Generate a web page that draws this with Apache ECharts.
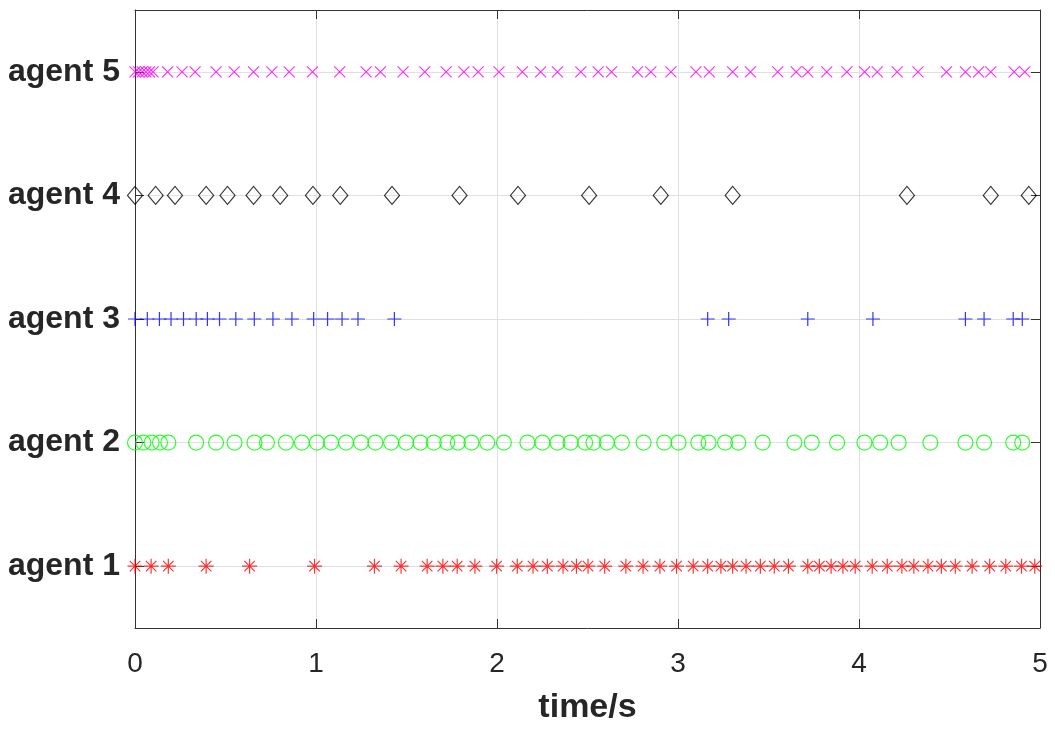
<!DOCTYPE html>
<html>
<head>
<meta charset="utf-8" />
<title>agent events</title>
<script src="https://cdn.jsdelivr.net/npm/echarts@6/dist/echarts.min.js"></script>
<style>
  html, body { margin: 0; padding: 0; background: #fff; }
  #chart { width: 1055px; height: 730px; }
</style>
</head>
<body>
<div id="chart"></div>
<script>
// event times (s) for each agent
var agents = ['agent 1', 'agent 2', 'agent 3', 'agent 4', 'agent 5'];
var xTicks = [0, 1, 2, 3, 4, 5];
var yTicks = [1, 2, 3, 4, 5];

var agent1 = [0, 0.089, 0.184, 0.393, 0.633, 0.992, 1.323, 1.470, 1.614, 1.701, 1.780, 1.878, 1.998,
  2.112, 2.199, 2.278, 2.365, 2.439, 2.503, 2.595, 2.712, 2.807, 2.900, 2.992, 3.084, 3.164, 3.237,
  3.302, 3.376, 3.455, 3.532, 3.610, 3.717, 3.781, 3.846, 3.911, 3.979, 4.073, 4.156, 4.237, 4.303,
  4.381, 4.455, 4.532, 4.625, 4.722, 4.811, 4.898, 4.971];
var agent2 = [0, 0.046, 0.092, 0.138, 0.184, 0.338, 0.448, 0.550, 0.660, 0.729, 0.834, 0.922, 1.005,
  1.083, 1.166, 1.249, 1.328, 1.415, 1.498, 1.577, 1.651, 1.725, 1.784, 1.859, 1.946, 2.038, 2.168,
  2.251, 2.334, 2.407, 2.487, 2.533, 2.607, 2.690, 2.810, 2.924, 3.003, 3.112, 3.169, 3.260, 3.333,
  3.468, 3.643, 3.739, 3.879, 4.030, 4.117, 4.219, 4.394, 4.588, 4.691, 4.852, 4.902];
var agent3 = [0, 0.068, 0.135, 0.199, 0.268, 0.338, 0.400, 0.467, 0.557, 0.659, 0.762, 0.867, 0.987,
  1.064, 1.144, 1.232, 1.433, 3.164, 3.280, 3.717, 4.077, 4.588, 4.691, 4.852, 4.902];
var agent4 = [0, 0.114, 0.221, 0.393, 0.511, 0.655, 0.802, 0.983, 1.134, 1.420, 1.793, 2.116, 2.509,
  2.905, 3.302, 4.265, 4.728, 4.938];
var agent5 = [0, 0.02, 0.04, 0.06, 0.08, 0.1, 0.18, 0.26, 0.332, 0.448, 0.548, 0.655, 0.756, 0.852,
  0.981, 1.131, 1.277, 1.356, 1.481, 1.601, 1.719, 1.817, 1.896, 2.011, 2.140, 2.241, 2.334, 2.463,
  2.559, 2.633, 2.776, 2.850, 2.961, 3.099, 3.173, 3.302, 3.400, 3.551, 3.653, 3.717, 3.822, 3.933,
  4.031, 4.101, 4.211, 4.326, 4.483, 4.588, 4.661, 4.728, 4.857, 4.916];

var eventTimes = [agent1, agent2, agent3, agent4, agent5];
var colors = ['#ff0000', '#00ff00', '#0000ff', '#000000', '#ff00ff'];
var symbols = [
  'path://M5,0L5,10M0,5L10,5M1.5,1.5L8.5,8.5M8.5,1.5L1.5,8.5', // asterisk
  'circle',
  'path://M5,0L5,10M0,5L10,5',                                // plus
  'diamond',
  'path://M0,0L10,10M10,0L0,10'                               // cross
];
var sizes = [15, 15, 14, [15, 18], 11];

var textColor = '#262626';
var boxColor = '#333333';
var gridColor = '#e0e0e0';

var series = [];
for (var i = 0; i < agents.length; i++) {
  var pts = [];
  for (var j = 0; j < eventTimes[i].length; j++) {
    pts.push([eventTimes[i][j], i + 1]);
  }
  series.push({
    name: agents[i],
    type: 'scatter',
    data: pts,
    symbol: symbols[i],
    symbolSize: sizes[i],
    clip: false,
    silent: true,
    animation: false,
    itemStyle: {
      color: 'none',
      borderColor: colors[i],
      borderWidth: 1.2
    }
  });
}

var chart = echarts.init(document.getElementById('chart'));
chart.setOption({
  backgroundColor: '#fff',
  grid: { left: 135, right: 15, top: 10, bottom: 101 },
  xAxis: [{
    type: 'value',
    min: xTicks[0],
    max: xTicks[xTicks.length - 1],
    interval: 1,
    name: 'time/s',
    nameLocation: 'middle',
    nameGap: 63,
    nameTextStyle: { fontFamily: 'Liberation Sans', fontSize: 34, fontWeight: 'bold', color: textColor },
    axisLine: { show: true, onZero: false, lineStyle: { color: boxColor, width: 1 } },
    axisTick: { show: true, inside: true, length: 9, lineStyle: { color: boxColor } },
    axisLabel: { margin: 22, fontFamily: 'Liberation Sans', fontSize: 28, color: textColor },
    splitLine: { show: true, lineStyle: { color: gridColor, width: 1 } }
  }, {
    type: 'value',
    position: 'top',
    min: xTicks[0],
    max: xTicks[xTicks.length - 1],
    interval: 1,
    axisLine: { show: true, onZero: false, lineStyle: { color: boxColor, width: 1 } },
    axisTick: { show: true, inside: true, length: 9, lineStyle: { color: boxColor } },
    axisLabel: { show: false },
    splitLine: { show: false }
  }],
  yAxis: [{
    type: 'value',
    min: 0.5,
    max: agents.length + 0.5,
    splitNumber: 5,
    axisLine: { show: true, onZero: false, lineStyle: { color: boxColor, width: 1 } },
    axisTick: { show: true, inside: true, length: 9, customValues: yTicks, lineStyle: { color: boxColor } },
    axisLabel: {
      margin: 15,
      customValues: yTicks,
      fontFamily: 'Liberation Sans',
      fontSize: 32,
      fontWeight: 'bold',
      color: textColor,
      formatter: function (v) {
        return agents[Math.round(v) - 1] || '';
      }
    },
    splitLine: { show: true, lineStyle: { color: gridColor, width: 1 } }
  }, {
    type: 'value',
    position: 'right',
    min: 0.5,
    max: agents.length + 0.5,
    splitNumber: 5,
    axisLine: { show: true, onZero: false, lineStyle: { color: boxColor, width: 1 } },
    axisTick: { show: true, inside: true, length: 9, customValues: yTicks, lineStyle: { color: boxColor } },
    axisLabel: { show: false },
    splitLine: { show: false }
  }],
  series: series
});
</script>
</body>
</html>
